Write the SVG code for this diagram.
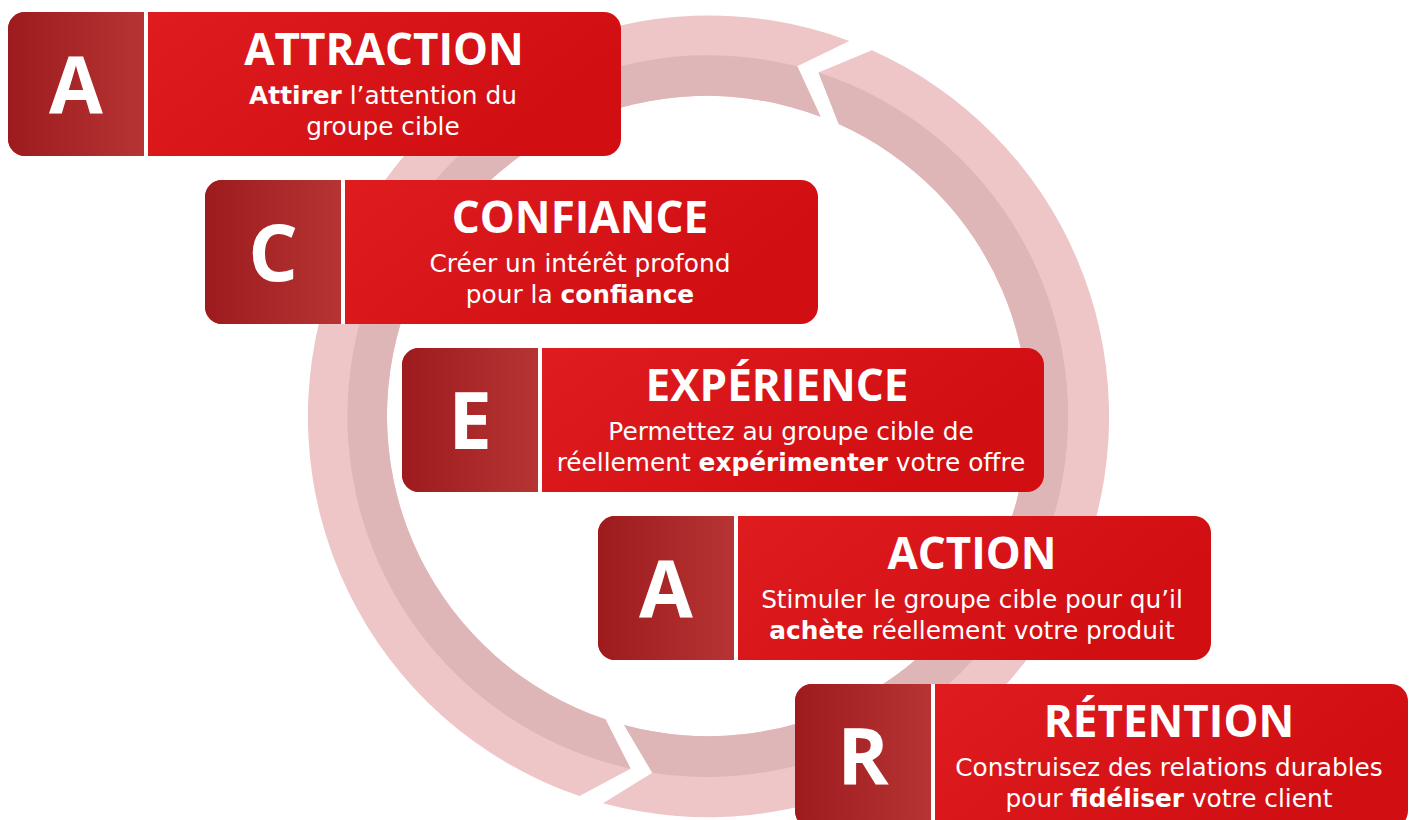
<svg xmlns="http://www.w3.org/2000/svg" width="1415" height="820" viewBox="0 0 1415 820">
  <defs>
    <linearGradient id="gLetter" x1="0" y1="0" x2="1" y2="0">
      <stop offset="0" stop-color="#9D1B1D"/>
      <stop offset="1" stop-color="#B73434"/>
    </linearGradient>
    <linearGradient id="gMain" x1="0" y1="0" x2="1" y2="0.3">
      <stop offset="0" stop-color="#E22022"/>
      <stop offset="1" stop-color="#D10F13"/>
    </linearGradient>
    <style>
      .light { fill: #EEC6C7; }
      .dark { fill: #DFB6B7; }
      .main { fill: url(#gMain); }
      .letterbox { fill: url(#gLetter); }
      .divider { fill: #FFFFFF; }
      .letter { font-family: "Open Sans", "Liberation Sans", sans-serif; font-weight: 700; font-size: 78px; fill: #FFFFFF; text-anchor: middle; }
      .title { font-family: "Open Sans", "Liberation Sans", sans-serif; font-weight: 700; font-size: 44px; fill: #FFFFFF; text-anchor: middle; }
      .body { font-family: "DejaVu Sans", "Open Sans", sans-serif; font-weight: 400; font-size: 24.8px; fill: #FFFFFF; text-anchor: middle; }
      .b { font-weight: 700; }
    </style>
  </defs>

  <!-- cycle ring: two arrow segments, each with a light outer and darker inner band -->
  <g id="connectors">
    <g id="ring-right">
      <path class="light" d="M871.9,50.2 A401,401 0 0 1 603.0,803.2 L652.3,772.7 L624.1,725.0 A320,320 0 0 0 838.7,124.1 L818.5,72.5 Z"/>
      <path class="dark" d="M818.5,72.5 A361,361 0 0 1 652.3,772.7 L624.1,725.0 A320,320 0 0 0 838.7,124.1 Z"/>
    </g>
    <g id="ring-left">
      <path class="light" d="M579.6,796.1 A401,401 0 1 1 849.3,40.9 L797.3,66.3 L820.6,116.7 A320,320 0 1 0 605.4,719.3 L630.6,768.7 Z"/>
      <path class="dark" d="M630.6,768.7 A361,361 0 1 1 797.3,66.3 L820.6,116.7 A320,320 0 1 0 605.4,719.3 Z"/>
    </g>
  </g>

  <!-- ATTRACTION -->
  <g id="card-attraction">
    <rect class="main" x="8" y="12" width="613" height="144" rx="17"/>
    <path class="letterbox" d="M25,12 H144 V156 H25 A17,17 0 0 1 8,139 V29 A17,17 0 0 1 25,12 Z"/>
    <rect class="divider" x="144" y="12" width="4" height="144"/>
    <text class="letter" x="76" y="113">A</text>
    <text class="title" x="384" y="65">ATTRACTION</text>
    <text class="body" x="383" y="104"><tspan class="b">Attirer</tspan> l’attention du</text>
    <text class="body" x="383" y="135">groupe cible</text>
  </g>

  <!-- CONFIANCE -->
  <g id="card-confiance">
    <rect class="main" x="205" y="180" width="613" height="144" rx="17"/>
    <path class="letterbox" d="M222,180 H341 V324 H222 A17,17 0 0 1 205,307 V197 A17,17 0 0 1 222,180 Z"/>
    <rect class="divider" x="341" y="180" width="4" height="144"/>
    <text class="letter" x="273" y="281">C</text>
    <text class="title" x="580" y="233">CONFIANCE</text>
    <text class="body" x="580" y="272">Créer un intérêt profond</text>
    <text class="body" x="580" y="303">pour la <tspan class="b">confiance</tspan></text>
  </g>

  <!-- EXPÉRIENCE -->
  <g id="card-experience">
    <rect class="main" x="402" y="348" width="642" height="144" rx="17"/>
    <path class="letterbox" d="M419,348 H538 V492 H419 A17,17 0 0 1 402,475 V365 A17,17 0 0 1 419,348 Z"/>
    <rect class="divider" x="538" y="348" width="4" height="144"/>
    <text class="letter" x="470" y="449">E</text>
    <text class="title" x="777" y="401">EXPÉRIENCE</text>
    <text class="body" x="791" y="440">Permettez au groupe cible de</text>
    <text class="body" x="791" y="471">réellement <tspan class="b">expérimenter</tspan> votre offre</text>
  </g>

  <!-- ACTION -->
  <g id="card-action">
    <rect class="main" x="598" y="516" width="613" height="144" rx="17"/>
    <path class="letterbox" d="M615,516 H734 V660 H615 A17,17 0 0 1 598,643 V533 A17,17 0 0 1 615,516 Z"/>
    <rect class="divider" x="734" y="516" width="4" height="144"/>
    <text class="letter" x="666" y="617">A</text>
    <text class="title" x="972" y="569">ACTION</text>
    <text class="body" x="972" y="608">Stimuler le groupe cible pour qu’il</text>
    <text class="body" x="972" y="639"><tspan class="b">achète</tspan> réellement votre produit</text>
  </g>

  <!-- RÉTENTION -->
  <g id="card-retention">
    <rect class="main" x="795" y="684" width="613" height="144" rx="17"/>
    <path class="letterbox" d="M812,684 H931 V828 H812 A17,17 0 0 1 795,811 V701 A17,17 0 0 1 812,684 Z"/>
    <rect class="divider" x="931" y="684" width="4" height="144"/>
    <text class="letter" x="863" y="785">R</text>
    <text class="title" x="1169" y="737">RÉTENTION</text>
    <text class="body" x="1169" y="776">Construisez des relations durables</text>
    <text class="body" x="1169" y="807">pour <tspan class="b">fidéliser</tspan> votre client</text>
  </g>
</svg>
